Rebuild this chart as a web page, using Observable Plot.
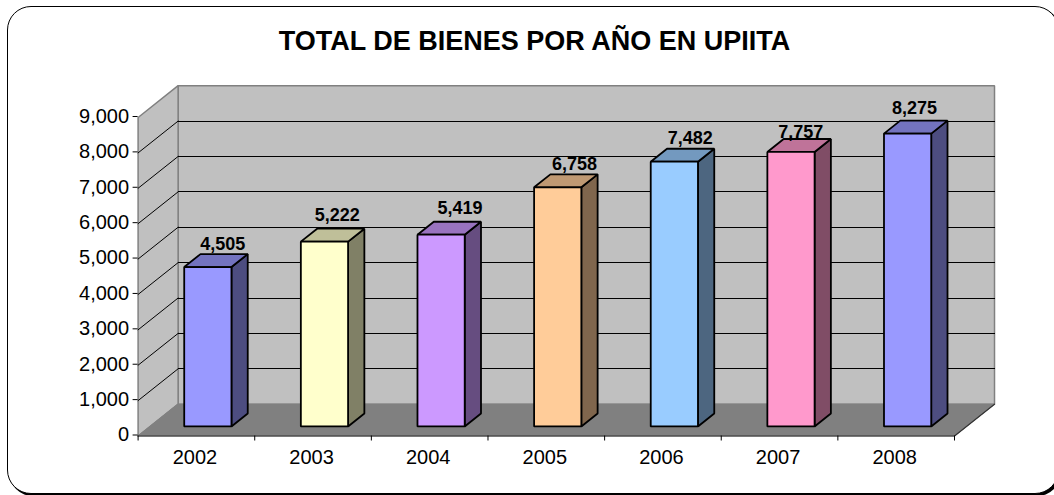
<!DOCTYPE html>
<html>
<head>
<meta charset="utf-8">
<script src="https://cdn.jsdelivr.net/npm/d3@7"></script>
<script src="https://cdn.jsdelivr.net/npm/@observablehq/plot@0.6"></script>
<style>
  html, body { margin: 0; background: #fff; }
  #page { position: relative; width: 1054px; height: 495px; overflow: hidden; font-family: "Liberation Sans", Arial, sans-serif; color: #000; }
  #border { position: absolute; left: 7px; top: 6px; width: 1050px; height: 486px; background: #fff; border: 1.5px solid #000; border-radius: 24px; box-shadow: 2px 2px 0 #000; }
  #title { position: relative; box-sizing: border-box; width: 1054px; height: 65px; padding-left: 15px; line-height: 83px; text-align: center; font-weight: bold; font-size: 27px; white-space: nowrap; }
  #chart { position: relative; }
  svg { display: block; overflow: visible; }
</style>
</head>
<body>
<div id="page">
  <div id="border"></div>
  <div id="title">TOTAL DE BIENES POR AÑO EN UPIITA</div>
  <div id="chart"></div>
</div>
<script>
const years = ["2002", "2003", "2004", "2005", "2006", "2007", "2008"];
const totals = [4505, 5222, 5419, 6758, 7482, 7757, 8275];
const valueTicks = [0, 1000, 2000, 3000, 4000, 5000, 6000, 7000, 8000, 9000];
const barColors = ["#9999FF", "#FFFFCC", "#CC99FF", "#FFCC99", "#99CCFF", "#FF99CC", "#9999FF"];

// Oblique projection: depth d (0 = front, 1 = back wall) expressed in scale units
const depthX = 0.3431, depthY = 899;
const P = (c, v, d) => ({x: c + d * depthX, y: v + d * depthY});
const maxV = 9000, n = years.length;

const face = (pts, fill, stroke, strokeWidth) =>
  Plot.line(pts.map(p => P(...p)), {x: "x", y: "y", fill, stroke, strokeWidth, curve: "linear-closed", strokeLinejoin: "miter"});

const shade = (hex, k) => { const c = d3.rgb(hex); return d3.rgb(c.r * k, c.g * k, c.b * k).formatHex(); };

// Hand placement of each value label relative to the top of its bar, as in the original
const labelShiftX = [-2, -4, 2, 0, -1, -7, -10];
const labelShiftY = [-10, -13, -14, -10, -10, -7, -12];

const marks = [
  // walls and floor
  face([[0,0,1],[n,0,1],[n,maxV,1],[0,maxV,1]], "#C0C0C0", "#808080", 1.5),
  face([[0,0,0],[0,0,1],[0,maxV,1],[0,maxV,0]], "#C0C0C0", "#808080", 1.5),
  face([[0,0,0],[n,0,0],[n,0,1],[0,0,1]], "#808080", "#808080", 1),
  // gridlines on side and back walls
  ...valueTicks.slice(1, -1).flatMap(v => [
    Plot.line([P(0,v,0), P(0,v,1)], {x: "x", y: "y", stroke: "#000", strokeWidth: 1}),
    Plot.line([P(0,v,1), P(n,v,1)], {x: "x", y: "y", stroke: "#000", strokeWidth: 1, shapeRendering: "crispEdges"})
  ]),
  // floor front and right edges
  Plot.line([P(0,0,0), P(n,0,0), P(n,0,1)], {x: "x", y: "y", stroke: "#333", strokeWidth: 1.2}),
  // bars
  ...totals.flatMap((v, i) => {
    const l = i + 0.495 - 0.2025, r = i + 0.495 + 0.2025, d0 = 0.3, d1 = 0.707, col = barColors[i];
    return [
      face([[r,0,d0],[r,0,d1],[r,v,d1],[r,v,d0]], shade(col, 0.5), "#000", 1.8),
      face([[l,v,d0],[r,v,d0],[r,v,d1],[l,v,d1]], shade(col, 0.75), "#000", 1.8),
      face([[l,0,d0],[r,0,d0],[r,v,d0],[l,v,d0]], col, "#000", 1.8)
    ];
  }),
  // axes
  Plot.axisY(valueTicks, {anchor: "left", tickSize: 5, tickPadding: 4, tickFormat: d3.format(","), fontSize: 20, label: null, stroke: "#000", dy: -1}),
  Plot.axisX(d3.range(n + 1), {anchor: "bottom", tickSize: 5, tickFormat: () => "", label: null, stroke: "#000"}),
  Plot.axisX(d3.range(n).map(i => i + 0.5), {anchor: "bottom", tickSize: 0, tickPadding: 14, tickFormat: c => years[Math.floor(c)], fontSize: 20, label: null, dx: -1.5}),
  // value labels
  ...totals.map((v, i) => Plot.text([v], {
    x: () => P(i + 0.5, v, 0.707).x,
    y: () => P(0, v, 0.707).y,
    text: d3.format(","),
    dx: labelShiftX[i], dy: labelShiftY[i], fontSize: 18, fontWeight: "bold", fill: "#000"
  }))
];

const chart = Plot.plot({
  width: 1054, height: 430,
  marginLeft: 137.6, marginRight: 100, marginTop: 52, marginBottom: 59.5,
  x: {domain: [0, n], axis: null},
  y: {domain: [0, maxV], axis: null},
  style: {background: "transparent", fontFamily: "'Liberation Sans', Arial, sans-serif", color: "#000"},
  marks
});
document.getElementById("chart").appendChild(chart);
</script>
</body>
</html>
